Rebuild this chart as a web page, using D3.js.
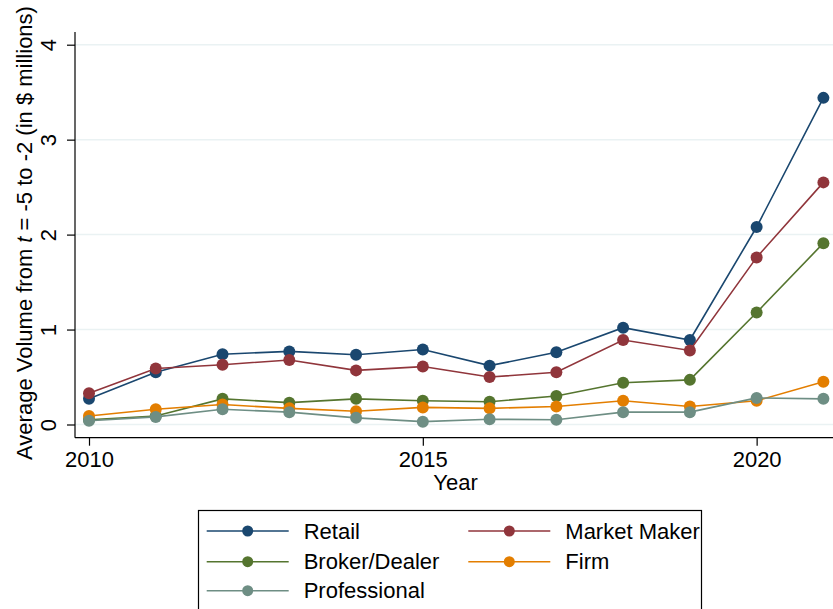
<!DOCTYPE html>
<html>
<head>
<meta charset="utf-8">
<script src="https://cdn.jsdelivr.net/npm/d3@7"></script>
<style>
  body { margin: 0; background: #fff; }
  svg { display: block; font-family: "Liberation Sans", Arial, sans-serif; }
</style>
</head>
<body>
<div id="chart"></div>
<script>
// --- data ---
const years = [2010, 2011, 2012, 2013, 2014, 2015, 2016, 2017, 2018, 2019, 2020, 2021];
const retail       = [0.27, 0.55, 0.74, 0.77, 0.735, 0.79, 0.62, 0.76, 1.02, 0.89, 2.08, 3.44];
const marketMaker  = [0.33, 0.59, 0.63, 0.68, 0.57, 0.61, 0.50, 0.55, 0.89, 0.78, 1.76, 2.55];
const brokerDealer = [0.05, 0.09, 0.27, 0.23, 0.27, 0.25, 0.24, 0.30, 0.44, 0.47, 1.18, 1.91];
const firm         = [0.09, 0.16, 0.21, 0.17, 0.14, 0.18, 0.17, 0.19, 0.25, 0.19, 0.25, 0.45];
const professional = [0.04, 0.08, 0.16, 0.13, 0.07, 0.03, 0.055, 0.05, 0.13, 0.13, 0.28, 0.27];
const seriesNames  = ["Retail", "Market Maker", "Broker/Dealer", "Firm", "Professional"];
const seriesColors = ["#1a476f", "#90353b", "#55752f", "#e37e00", "#6e8e84"];
const xTicks = [2010, 2015, 2020];
const yTicks = [0, 1, 2, 3, 4];

const seriesValues = [retail, marketMaker, brokerDealer, firm, professional];
const series = seriesNames.map((name, i) => ({
    name: name,
    color: seriesColors[i],
    points: years.map((yr, j) => ({year: yr, value: seriesValues[i][j]}))
}));

const W = 833, H = 609;
const fontSize = "22px";
const svg = d3.select("#chart").append("svg")
    .attr("width", W)
    .attr("height", H);

// plot area
const plotLeft = 75, plotRight = 833, plotTop = 32, axisY = 437.7;

const x = d3.scaleLinear().domain([2010, 2021]).range([89, 823.4]);
const y = d3.scaleLinear().domain([0, 4]).range([424.5, 44.7]);

// gridlines
svg.append("g")
    .selectAll("line")
    .data(yTicks)
    .join("line")
    .attr("x1", plotLeft).attr("x2", plotRight)
    .attr("y1", d => y(d)).attr("y2", d => y(d))
    .attr("stroke", "#eaf2f3")
    .attr("stroke-width", 1.5);

// y axis
const yAxis = svg.append("g")
    .attr("transform", `translate(${plotLeft},0)`)
    .call(d3.axisLeft(y).tickValues(yTicks).tickSize(8).tickFormat(d3.format("d")));
yAxis.select(".domain").remove();
yAxis.append("line")
    .attr("x1", 0).attr("x2", 0)
    .attr("y1", plotTop).attr("y2", axisY)
    .attr("stroke", "#000").attr("stroke-width", 1.2);
yAxis.selectAll(".tick line").attr("stroke", "#000").attr("stroke-width", 1.2);
yAxis.selectAll(".tick text")
    .attr("x", null).attr("dy", null)
    .attr("transform", "translate(-27,0) rotate(-90)")
    .attr("text-anchor", "middle")
    .attr("dominant-baseline", "central")
    .attr("fill", "#000")
    .style("font-size", fontSize);

// x axis
const xAxis = svg.append("g")
    .attr("transform", `translate(0,${axisY})`)
    .call(d3.axisBottom(x).tickValues(xTicks).tickSize(8).tickFormat(d3.format("d")));
xAxis.select(".domain").remove();
xAxis.append("line")
    .attr("x1", plotLeft).attr("x2", plotRight)
    .attr("y1", 0).attr("y2", 0)
    .attr("stroke", "#000").attr("stroke-width", 1.2);
xAxis.selectAll(".tick line").attr("stroke", "#000").attr("stroke-width", 1.2);
xAxis.selectAll(".tick text")
    .attr("y", 29.5).attr("dy", null)
    .attr("fill", "#000")
    .style("font-size", fontSize);

// axis titles
svg.append("text")
    .attr("x", 455.5).attr("y", 490)
    .attr("text-anchor", "middle")
    .style("font-size", fontSize)
    .text("Year");

const yTitle = svg.append("text")
    .attr("transform", "translate(31.7,233) rotate(-90)")
    .attr("text-anchor", "middle")
    .style("font-size", fontSize);
yTitle.append("tspan").text("Average Volume from ");
yTitle.append("tspan").style("font-style", "italic").text("t");
yTitle.append("tspan").text(" = -5 to -2 (in $ millions)");

// lines + markers
const line = d3.line().x(d => x(d.year)).y(d => y(d.value));
const sG = svg.append("g").selectAll("g")
    .data(series)
    .join("g");
sG.append("path")
    .attr("d", d => line(d.points))
    .attr("fill", "none")
    .attr("stroke", d => d.color)
    .attr("stroke-width", 1.6);
sG.selectAll("circle")
    .data(d => d.points.map(p => ({...p, color: d.color})))
    .join("circle")
    .attr("cx", d => x(d.year))
    .attr("cy", d => y(d.value))
    .attr("r", 6)
    .attr("fill", d => d.color);

// legend
const legend = svg.append("g");
legend.append("rect")
    .attr("x", 198.5).attr("y", 510.5)
    .attr("width", 503).attr("height", 110)
    .attr("fill", "#fff")
    .attr("stroke", "#000")
    .attr("stroke-width", 1.2);
const colX = [206.7, 468.3];
const rowY = [531, 561.7, 590.7];
const items = legend.selectAll("g.item")
    .data(series)
    .join("g")
    .attr("class", "item")
    .attr("transform", (d, i) => `translate(${colX[i % 2]},${rowY[Math.floor(i / 2)]})`);
items.append("line")
    .attr("x1", 0).attr("x2", 82)
    .attr("stroke", d => d.color)
    .attr("stroke-width", 1.6);
items.append("circle")
    .attr("cx", 41).attr("r", 5.5)
    .attr("fill", d => d.color);
items.append("text")
    .attr("x", 97)
    .attr("dominant-baseline", "central")
    .style("font-size", fontSize)
    .text(d => d.name);
</script>
</body>
</html>
